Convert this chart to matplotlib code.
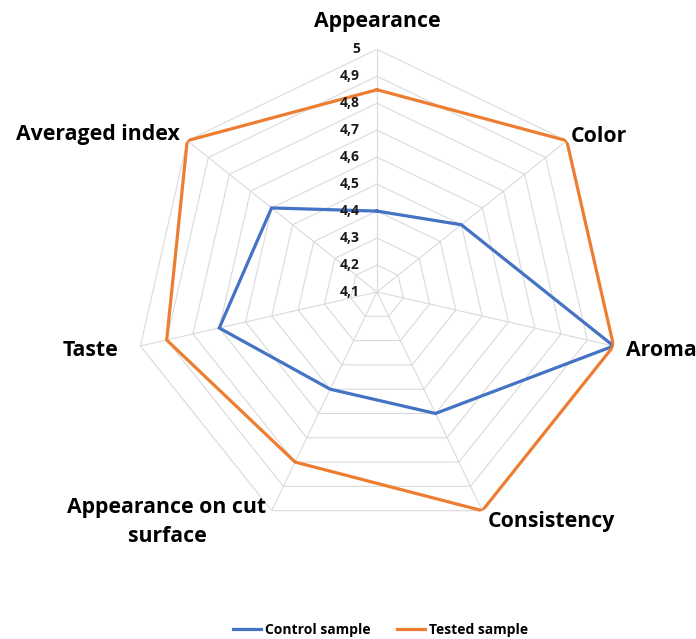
import numpy as np
import matplotlib
matplotlib.use("Agg")
import matplotlib.pyplot as plt

# Sensory evaluation scores
categories = ["Appearance", "Color", "Aroma", "Consistency",
              "Appearance on cut\nsurface", "Taste", "Averaged index"]
control_sample = [4.4, 4.5, 5.0, 4.6, 4.5, 4.7, 4.6]
tested_sample = [4.85, 5.0, 5.0, 5.0, 4.8, 4.9, 5.0]
series_names = ["Control sample", "Tested sample"]
ring_values = [4.2, 4.3, 4.4, 4.5, 4.6, 4.7, 4.8, 4.9, 5.0]
tick_values = [4.1, 4.2, 4.3, 4.4, 4.5, 4.6, 4.7, 4.8, 4.9, 5.0]
tick_labels = ["4,1", "4,2", "4,3", "4,4", "4,5", "4,6", "4,7", "4,8", "4,9", "5"]
r_min, r_max = 4.1, 5.0

W, H = 696, 639
fig = plt.figure(figsize=(W / 100, H / 100), dpi=100)
fig.patch.set_facecolor("white")

cx, cy, rad = 377, 292, 242.7
ax = fig.add_axes([(cx - rad) / W, (H - cy - rad) / H, 2 * rad / W, 2 * rad / H],
                  projection="polar")
ax.set_theta_zero_location("N")
ax.set_theta_direction(-1)
ax.set_ylim(r_min, r_max)
ax.grid(False)
ax.spines["polar"].set_visible(False)
ax.set_xticks([])
ax.set_yticks([])
ax.patch.set_alpha(0)

n = len(categories)
theta = np.linspace(0, 2 * np.pi, n, endpoint=False)
theta_closed = np.append(theta, theta[0])

grid_color = "#DADADA"
# heptagonal rings
for rv in ring_values:
    ax.plot(theta_closed, [rv] * (n + 1), color=grid_color, lw=0.8, zorder=1)
# spokes
for t in theta:
    ax.plot([t, t], [r_min, r_max], color=grid_color, lw=0.8, zorder=1)

colors = ["#4472C4", "#ED7D31"]
handles = []
for vals, col, name in zip([control_sample, tested_sample], colors, series_names):
    v = np.append(vals, vals[0])
    h, = ax.plot(theta_closed, v, color=col, lw=2.3, zorder=3,
                 solid_joinstyle="miter", label=name)
    handles.append(h)

# radial value labels along the top spoke
for tv, tl in zip(tick_values, tick_labels):
    ax.annotate(tl, xy=(0, tv), xytext=(-17, 0), textcoords="offset pixels",
                ha="right", va="center", fontsize=10, fontweight="bold",
                family="Open Sans", color="#1a1a1a", zorder=4)

# category labels
label_pos = [
    (377, 22, "center"),
    (571, 136, "left"),
    (626, 350, "left"),
    (488, 521, "left"),
    (167, 522, "center"),
    (118, 350, "right"),
    (180, 135, "right"),
]
for (px, py, ha), cat in zip(label_pos, categories):
    fig.text(px / W, 1 - py / H, cat, ha=ha, va="center", fontsize=15.3,
             fontweight="bold", family="Open Sans", color="black",
             linespacing=1.55, multialignment="center")

fig.legend(handles=handles, labels=series_names, loc="center",
           bbox_to_anchor=(381 / W, 1 - 630 / H), ncol=2, frameon=False,
           handlelength=2.0, handletextpad=0.3, columnspacing=1.9,
           prop={"family": "Open Sans", "weight": "bold", "size": 10})

fig.savefig("out.png", dpi=100, facecolor="white")
